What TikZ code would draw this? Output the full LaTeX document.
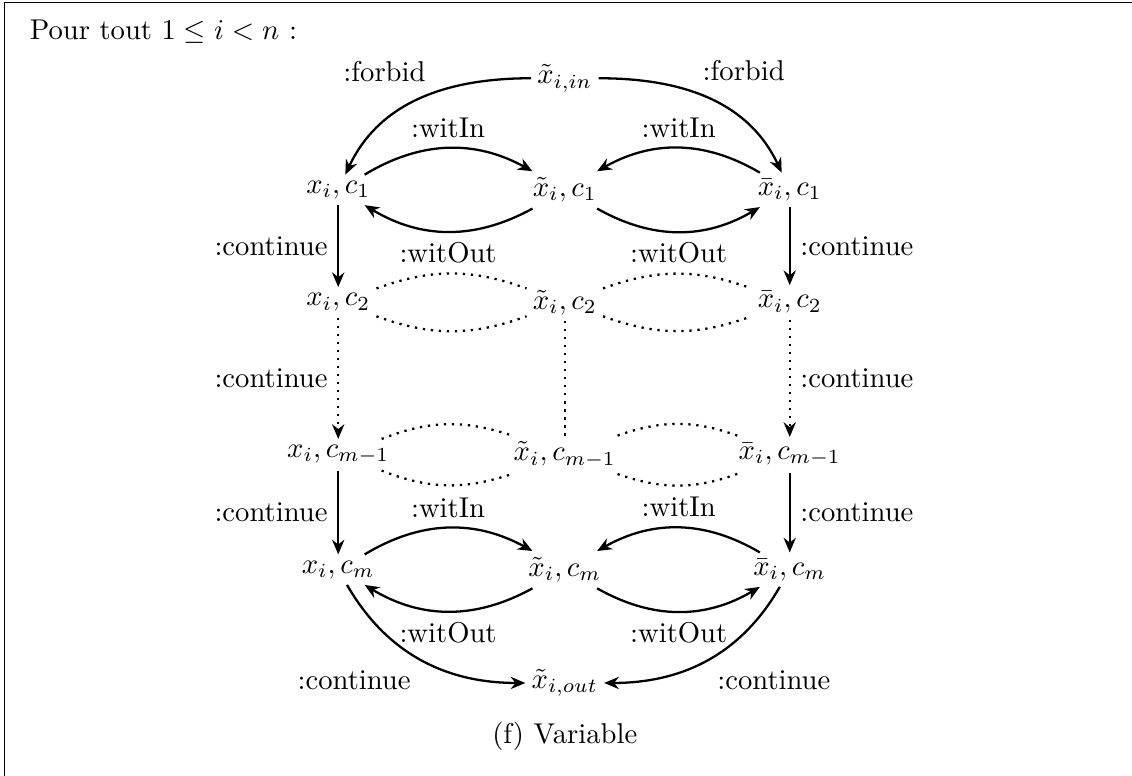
\documentclass[tikz,border=0pt]{standalone}
\usepackage{tikz}
\usetikzlibrary{arrows.meta,positioning,calc}
\tikzset{st/.style={inner sep=2pt}, arr/.style={-{Stealth[length=1.8mm,width=1.5mm]},thick}, darr/.style={arr,dotted}, dline/.style={thick,dotted}}

\begin{document}
\begin{tikzpicture}[x=1cm,y=1cm]
\useasboundingbox (0,0) rectangle (13.89,-9.52);
\draw (0.05,-9.6) -- (0.05,-0.03) -- (14,-0.03);
\node[anchor=base west,inner sep=0pt](head)at(0.36,-0.48){Pour tout $1\leq i<n$ :};
\node[st](xin)at(6.93,-0.96){$\tilde{x}_{i,in}$};
\node[st](x1)at(4.15,-2.33){$x_i,c_1$};\node[st](t1)at(6.93,-2.33){$\tilde{x}_i,c_1$};\node[st](b1)at(9.69,-2.33){$\bar{x}_i,c_1$};
\node[st](x2)at(4.15,-3.71){$x_i,c_2$};\node[st](t2)at(6.93,-3.71){$\tilde{x}_i,c_2$};\node[st](b2)at(9.69,-3.71){$\bar{x}_i,c_2$};
\node[st](xp)at(4.15,-5.58){$x_i,c_{m-1}$};\node[st](tp)at(6.93,-5.58){$\tilde{x}_i,c_{m-1}$};\node[st](bp)at(9.69,-5.58){$\bar{x}_i,c_{m-1}$};
\node[st](xm)at(4.15,-6.99){$x_i,c_m$};\node[st](tm)at(6.93,-6.99){$\tilde{x}_i,c_m$};\node[st](bm)at(9.69,-6.99){$\bar{x}_i,c_m$};
\node[st](xout)at(6.93,-8.38){$\tilde{x}_{i,out}$};
\node(cap)at(6.93,-9.04){(f) Variable};
% entree
\draw[arr](xin)to[out=180,in=65]node[pos=.42,above left]{:forbid}(x1);\draw[arr](xin)to[out=0,in=115]node[pos=.42,above right]{:forbid}(b1);
% ligne c_1
\draw[arr](x1)to[bend left=30]node[above]{:witIn}(t1);\draw[arr](t1)to[bend left=30]node[below]{:witOut}(x1);
\draw[arr](b1)to[bend right=30]node[above]{:witIn}(t1);\draw[arr](t1)to[bend right=30]node[below]{:witOut}(b1);
\draw[arr](x1)--node[left]{:continue}(x2);\draw[arr](b1)--node[right]{:continue}(b2);
% lignes c_2 et c_{m-1}
\draw[dline](x2)to[bend left=20](t2);\draw[dline](x2)to[bend right=20](t2);\draw[dline](t2)to[bend left=20](b2);\draw[dline](t2)to[bend right=20](b2);
\draw[darr](x2)--node[left]{:continue}(xp);\draw[dline](t2)--(tp);\draw[darr](b2)--node[right]{:continue}(bp);
\draw[dline](xp)to[bend left=20](tp);\draw[dline](xp)to[bend right=20](tp);\draw[dline](tp)to[bend left=20](bp);\draw[dline](tp)to[bend right=20](bp);
\draw[arr](xp)--node[left]{:continue}(xm);\draw[arr](bp)--node[right]{:continue}(bm);
% ligne c_m
\draw[arr](xm)to[bend left=30]node[above]{:witIn}(tm);\draw[arr](tm)to[bend left=30]node[below]{:witOut}(xm);
\draw[arr](bm)to[bend right=30]node[above]{:witIn}(tm);\draw[arr](tm)to[bend right=30]node[below]{:witOut}(bm);
% sortie
\draw[arr](xm)to[out=-60,in=180]node[below left]{:continue}(xout);\draw[arr](bm)to[out=-120,in=0]node[below right]{:continue}(xout);
\end{tikzpicture}
\end{document}
